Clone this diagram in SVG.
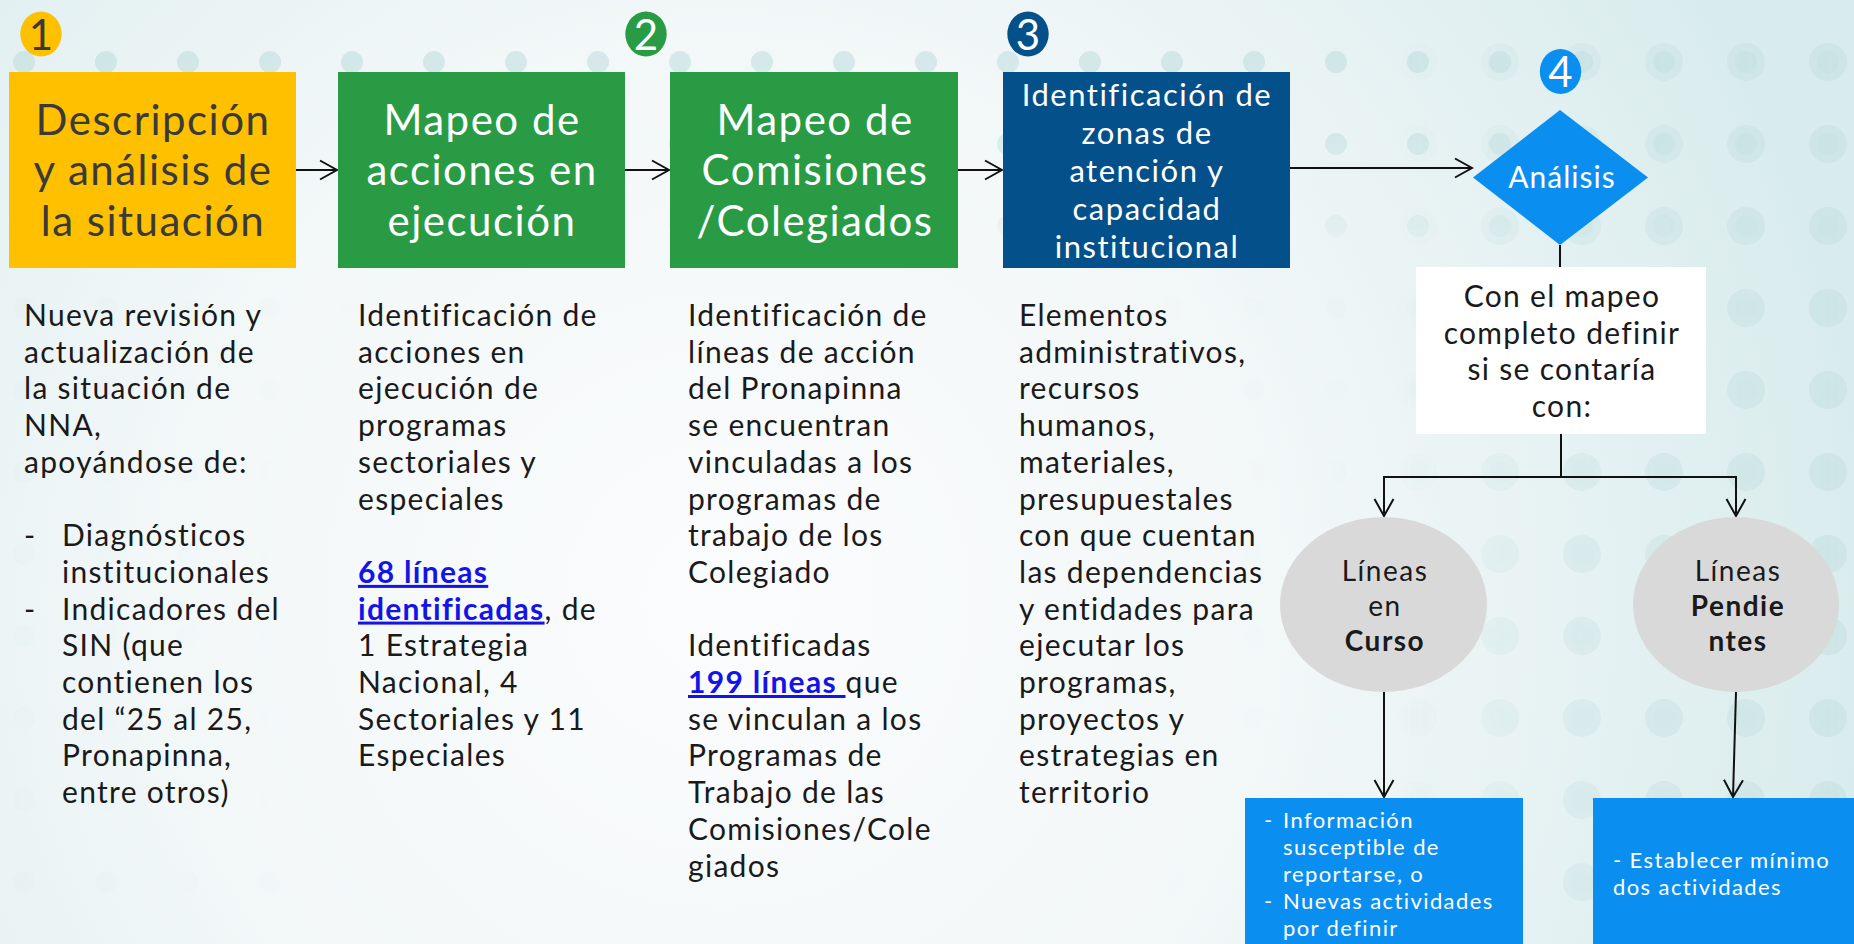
<svg xmlns="http://www.w3.org/2000/svg" width="1854" height="944" viewBox="0 0 1854 944">
<defs>
<radialGradient id="bg" cx="720" cy="600" r="1150" gradientUnits="userSpaceOnUse">
<stop offset="0" stop-color="#fbfcfd"/>
<stop offset="0.5" stop-color="#f2f7f8"/>
<stop offset="1" stop-color="#d9eced"/>
</radialGradient>
<pattern id="dotsS" x="-17" y="21" width="82" height="82" patternUnits="userSpaceOnUse">
<circle cx="41" cy="41" r="11" fill="#c9e2e3"/>
</pattern>
<pattern id="dotsL" x="-17" y="21" width="82" height="82" patternUnits="userSpaceOnUse">
<circle cx="41" cy="41" r="19" fill="#c9e2e3"/>
</pattern>
<radialGradient id="fade" cx="760" cy="640" r="1000" gradientUnits="userSpaceOnUse">
<stop offset="0" stop-color="#000"/>
<stop offset="0.45" stop-color="#000"/>
<stop offset="1" stop-color="#fff"/>
</radialGradient>
<linearGradient id="fadeTop" x1="0" y1="0" x2="0" y2="944" gradientUnits="userSpaceOnUse">
<stop offset="0" stop-color="#fff"/>
<stop offset="0.12" stop-color="#fff"/>
<stop offset="0.3" stop-color="#000"/>
<stop offset="1" stop-color="#000"/>
</linearGradient>
<mask id="m1"><rect width="1854" height="944" fill="url(#fade)"/><rect width="1854" height="944" fill="url(#fadeTop)" opacity="0.8"/></mask>
<linearGradient id="fadeR" x1="1380" y1="0" x2="1854" y2="0" gradientUnits="userSpaceOnUse">
<stop offset="0" stop-color="#000"/>
<stop offset="0.4" stop-color="#888"/>
<stop offset="1" stop-color="#fff"/>
</linearGradient>
<mask id="m2"><rect width="1854" height="944" fill="url(#fadeR)"/></mask>
<marker id="arr" viewBox="-19 -11 21 22" refX="0" refY="0" markerWidth="21" markerHeight="22" markerUnits="userSpaceOnUse" orient="auto">
<path d="M-17,-9.5 L0,0 L-17,9.5" fill="none" stroke="#111" stroke-width="2"/>
</marker>
<style>
text{font-family:Lato,"Open Sans","Liberation Sans",sans-serif;}
.hd{font-size:42px;letter-spacing:1.5px;text-anchor:middle;}
.hdw{fill:#ffffff;}
.hdd{fill:#3a3a3a;}
.hb{font-size:31px;letter-spacing:1.5px;text-anchor:middle;fill:#ffffff;}
.bd{font-size:30px;letter-spacing:1.3px;fill:#1a1a1a;}
.lk{fill:#1414e6;font-weight:700;text-decoration:underline;}
.bn{font-size:42px;text-anchor:middle;}
.ci{font-size:28px;letter-spacing:1.5px;text-anchor:middle;fill:#1a1a1a;}
.cb{font-weight:700;}
.bx{font-size:22px;letter-spacing:1.4px;fill:#ffffff;}
.cn{fill:none;stroke:#111;stroke-width:2;}
</style>
</defs>

<g id="background">
<rect width="1854" height="944" fill="url(#bg)"/>
<rect width="1854" height="944" fill="url(#dotsS)" mask="url(#m1)" opacity="0.8"/>
<rect x="1380" width="474" height="944" fill="url(#dotsL)" mask="url(#m2)" opacity="0.7"/>
</g>

<g id="connectors">
<path class="cn" d="M296,170 H337" marker-end="url(#arr)"/>
<path class="cn" d="M625,170 H669" marker-end="url(#arr)"/>
<path class="cn" d="M958,170 H1002" marker-end="url(#arr)"/>
<path class="cn" d="M1290,168 H1472" marker-end="url(#arr)"/>
<path class="cn" d="M1560,245 V267"/>
<path class="cn" d="M1561,434 V477" stroke-width="3"/>
<path class="cn" d="M1561,477 H1384 V516" marker-end="url(#arr)"/>
<path class="cn" d="M1561,477 H1736 V516" marker-end="url(#arr)"/>
<path class="cn" d="M1384,692 V797" marker-end="url(#arr)"/>
<path class="cn" d="M1736,692 L1733,797" marker-end="url(#arr)"/>
</g>

<g id="badge1">
<ellipse cx="41" cy="34" rx="20.7" ry="22.5" fill="#ffc000"/>
<text class="bn" x="41" y="50" fill="#3a3a3a">1</text>
</g>
<g id="badge2">
<ellipse cx="646" cy="34" rx="20.7" ry="22.5" fill="#299b45"/>
<text class="bn" x="646" y="50" fill="#ffffff">2</text>
</g>
<g id="badge3">
<ellipse cx="1028" cy="34" rx="20.7" ry="22.5" fill="#03508a"/>
<text class="bn" x="1028" y="50" fill="#ffffff">3</text>
</g>
<g id="badge4">
<ellipse cx="1560.5" cy="71.5" rx="20.7" ry="22.5" fill="#0a8ff0"/>
<text class="bn" x="1560.5" y="87" fill="#ffffff">4</text>
</g>

<g id="node-descripcion">
<rect x="9" y="72" width="287" height="196" fill="#ffc000"/>
<text class="hd hdd" x="153" y="135">Descripción</text>
<text class="hd hdd" x="153" y="185">y análisis de</text>
<text class="hd hdd" x="153" y="236">la situación</text>
</g>

<g id="node-mapeo-acciones">
<rect x="338" y="72" width="287" height="196" fill="#299b45"/>
<text class="hd hdw" x="482" y="135">Mapeo de</text>
<text class="hd hdw" x="482" y="185">acciones en</text>
<text class="hd hdw" x="482" y="236">ejecución</text>
</g>

<g id="node-mapeo-comisiones">
<rect x="670" y="72" width="288" height="196" fill="#299b45"/>
<text class="hd hdw" x="815" y="135">Mapeo de</text>
<text class="hd hdw" x="815" y="185">Comisiones</text>
<text class="hd hdw" x="815" y="236">/Colegiados</text>
</g>

<g id="node-identificacion-zonas">
<rect x="1003" y="72" width="287" height="196" fill="#03508a"/>
<text class="hb" x="1147" y="106">Identificación de</text>
<text class="hb" x="1147" y="144">zonas de</text>
<text class="hb" x="1147" y="182">atención y</text>
<text class="hb" x="1147" y="220">capacidad</text>
<text class="hb" x="1147" y="258">institucional</text>
</g>

<g id="node-analisis">
<polygon points="1560,110 1648,177.5 1560,245 1473,177.5" fill="#0a8ff0"/>
<text x="1562" y="188" font-size="30" letter-spacing="1" text-anchor="middle" fill="#ffffff">Análisis</text>
</g>

<g id="node-con-el-mapeo">
<rect x="1416" y="267" width="290" height="167" fill="#ffffff"/>
<text class="bd" x="1562" y="307" text-anchor="middle">Con el mapeo</text>
<text class="bd" x="1562" y="343.5" text-anchor="middle">completo definir</text>
<text class="bd" x="1562" y="380" text-anchor="middle">si se contaría</text>
<text class="bd" x="1562" y="417" text-anchor="middle">con:</text>
</g>

<g id="node-lineas-curso">
<ellipse cx="1383.5" cy="604.5" rx="103.5" ry="87.5" fill="#d9d9d9"/>
<text class="ci" x="1385" y="581">Líneas</text>
<text class="ci" x="1385" y="616">en</text>
<text class="ci cb" x="1385" y="651">Curso</text>
</g>

<g id="node-lineas-pendientes">
<ellipse cx="1736" cy="604.5" rx="103" ry="87.5" fill="#d9d9d9"/>
<text class="ci" x="1738" y="581">Líneas</text>
<text class="ci cb" x="1738" y="616">Pendie</text>
<text class="ci cb" x="1738" y="651">ntes</text>
</g>

<g id="node-curso-detalle">
<rect x="1245" y="798" width="278" height="146" fill="#0a8ff0"/>
<text class="bx" x="1264" y="828">-</text>
<text class="bx" x="1283" y="828">Información</text>
<text class="bx" x="1283" y="855">susceptible de</text>
<text class="bx" x="1283" y="882">reportarse, o</text>
<text class="bx" x="1264" y="909">-</text>
<text class="bx" x="1283" y="909">Nuevas actividades</text>
<text class="bx" x="1283" y="935.5">por definir</text>
</g>

<g id="node-pendientes-detalle">
<rect x="1593" y="798" width="261" height="146" fill="#0a8ff0"/>
<text class="bx" x="1613" y="868">- Establecer mínimo</text>
<text class="bx" x="1613" y="895">dos actividades</text>
</g>

<g id="text-col1">
<text class="bd" x="24" y="326">Nueva revisión y</text>
<text class="bd" x="24" y="362.7">actualización de</text>
<text class="bd" x="24" y="399.4">la situación de</text>
<text class="bd" x="24" y="436.1">NNA,</text>
<text class="bd" x="24" y="472.8">apoyándose de:</text>
<text class="bd" x="24" y="546.2">-</text>
<text class="bd" x="62" y="546.2">Diagnósticos</text>
<text class="bd" x="62" y="582.9">institucionales</text>
<text class="bd" x="24" y="619.6">-</text>
<text class="bd" x="62" y="619.6">Indicadores del</text>
<text class="bd" x="62" y="656.3">SIN (que</text>
<text class="bd" x="62" y="693">contienen los</text>
<text class="bd" x="62" y="729.7">del “25 al 25,</text>
<text class="bd" x="62" y="766.4">Pronapinna,</text>
<text class="bd" x="62" y="803.1">entre otros)</text>
</g>

<g id="text-col2">
<text class="bd" x="358" y="326">Identificación de</text>
<text class="bd" x="358" y="362.7">acciones en</text>
<text class="bd" x="358" y="399.4">ejecución de</text>
<text class="bd" x="358" y="436.1">programas</text>
<text class="bd" x="358" y="472.8">sectoriales y</text>
<text class="bd" x="358" y="509.5">especiales</text>
<text class="bd" x="358" y="582.9"><tspan class="lk">68 líneas</tspan></text>
<text class="bd" x="358" y="619.6"><tspan class="lk">identificadas</tspan>, de</text>
<text class="bd" x="358" y="656.3">1 Estrategia</text>
<text class="bd" x="358" y="693">Nacional, 4</text>
<text class="bd" x="358" y="729.7">Sectoriales y 11</text>
<text class="bd" x="358" y="766.4">Especiales</text>
</g>

<g id="text-col3">
<text class="bd" x="688" y="326">Identificación de</text>
<text class="bd" x="688" y="362.7">líneas de acción</text>
<text class="bd" x="688" y="399.4">del Pronapinna</text>
<text class="bd" x="688" y="436.1">se encuentran</text>
<text class="bd" x="688" y="472.8">vinculadas a los</text>
<text class="bd" x="688" y="509.5">programas de</text>
<text class="bd" x="688" y="546.2">trabajo de los</text>
<text class="bd" x="688" y="582.9">Colegiado</text>
<text class="bd" x="688" y="656.3">Identificadas</text>
<text class="bd" x="688" y="693" xml:space="preserve"><tspan class="lk">199 líneas </tspan>que</text>
<text class="bd" x="688" y="729.7">se vinculan a los</text>
<text class="bd" x="688" y="766.4">Programas de</text>
<text class="bd" x="688" y="803.1">Trabajo de las</text>
<text class="bd" x="688" y="839.8">Comisiones/Cole</text>
<text class="bd" x="688" y="876.5">giados</text>
</g>

<g id="text-col4">
<text class="bd" x="1019" y="326">Elementos</text>
<text class="bd" x="1019" y="362.7">administrativos,</text>
<text class="bd" x="1019" y="399.4">recursos</text>
<text class="bd" x="1019" y="436.1">humanos,</text>
<text class="bd" x="1019" y="472.8">materiales,</text>
<text class="bd" x="1019" y="509.5">presupuestales</text>
<text class="bd" x="1019" y="546.2">con que cuentan</text>
<text class="bd" x="1019" y="582.9">las dependencias</text>
<text class="bd" x="1019" y="619.6">y entidades para</text>
<text class="bd" x="1019" y="656.3">ejecutar los</text>
<text class="bd" x="1019" y="693">programas,</text>
<text class="bd" x="1019" y="729.7">proyectos y</text>
<text class="bd" x="1019" y="766.4">estrategias en</text>
<text class="bd" x="1019" y="803.1">territorio</text>
</g>
</svg>
